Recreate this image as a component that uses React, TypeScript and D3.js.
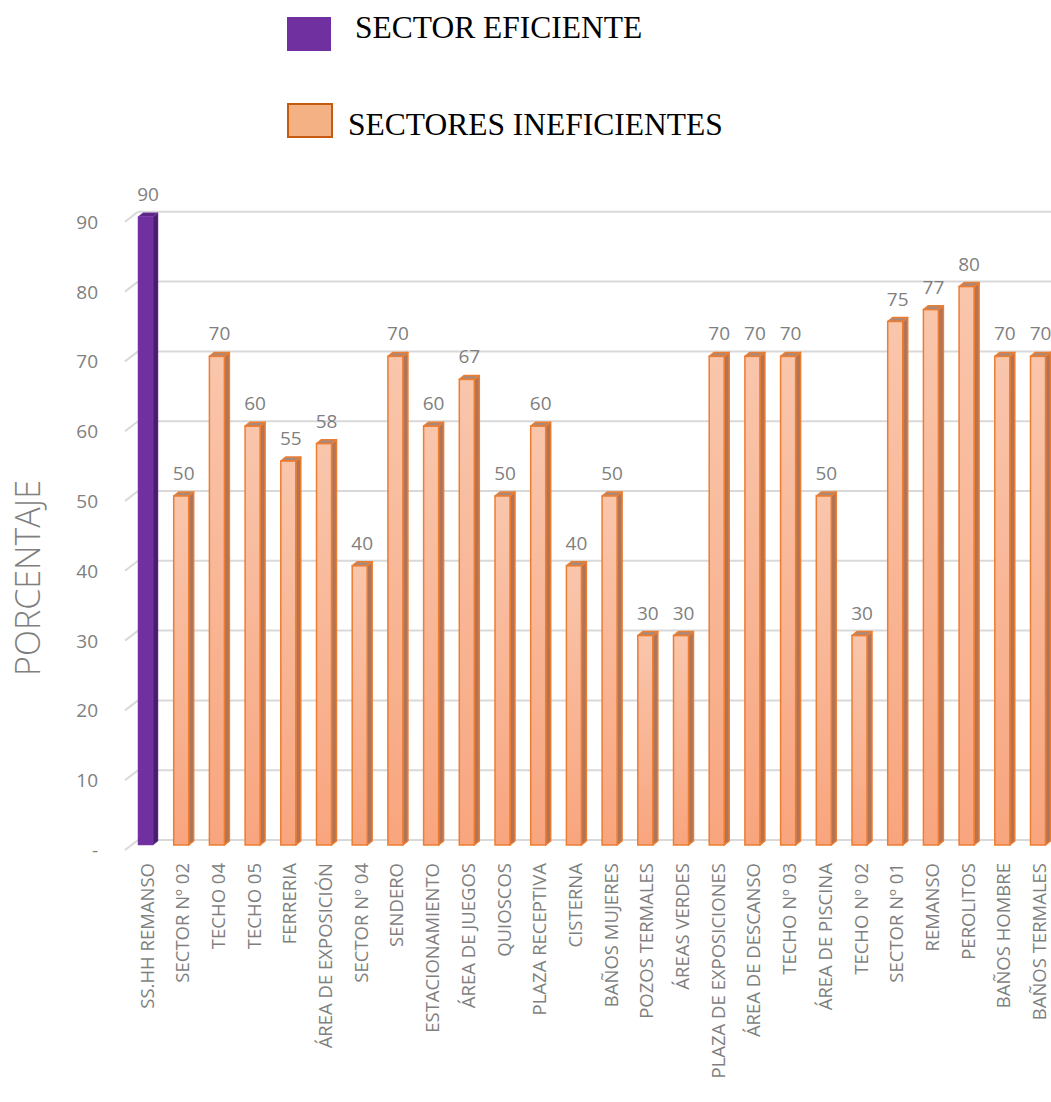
import React from "react";
import * as d3 from "d3";

const categories = [
  "SS.HH REMANSO", "SECTOR Nº 02", "TECHO 04", "TECHO 05", "FERRERIA",
  "ÁREA DE EXPOSICIÓN", "SECTOR Nº 04", "SENDERO", "ESTACIONAMIENTO",
  "ÁREA DE JUEGOS", "QUIOSCOS", "PLAZA RECEPTIVA", "CISTERNA",
  "BAÑOS MUJERES", "POZOS TERMALES", "ÁREAS VERDES", "PLAZA DE  EXPOSICIONES",
  "ÁREA DE DESCANSO", "TECHO Nº 03", "ÁREA DE PISCINA", "TECHO Nº 02",
  "SECTOR Nº 01", "REMANSO", "PEROLITOS", "BAÑOS HOMBRE", "BAÑOS TERMALES",
];
const values = [
  90, 50, 70, 60, 55, 57.5, 40, 70, 60, 66.7, 50, 60, 40, 50, 30, 30, 70, 70,
  70, 50, 30, 75, 76.7, 80, 70, 70,
];
const efficient = ["SS.HH REMANSO"];
const yTicks = [0, 10, 20, 30, 40, 50, 60, 70, 80, 90];
const legendItems = ["SECTOR EFICIENTE", "SECTORES INEFICIENTES"];

export default function App() {
  const W = 1051, H = 1102;
  const y = d3.scaleLinear().domain([0, 90]).range([845, 216.8]);
  const x = d3.scaleBand<string>().domain(categories).range([130.15, 130.15 + 26 * 35.7]);
  const bw = 15, dx = 5, dy = 4;
  const gdx = 13, gdy = 10;
  const axisX = 125;
  const gray = "#7F7F7F";
  const fontSans = "'Open Sans', 'Noto Sans', sans-serif";
  const serif = "'Liberation Serif', 'Times New Roman', serif";
  return (
    <div style={{ position: "fixed", left: 0, top: 0, width: W, height: H, overflow: "hidden" }}>
      <svg width={W} height={H} style={{ display: "block", background: "#fff" }}>
        <defs>
          <linearGradient id="og" x1="0" y1="0" x2="0" y2="1">
            <stop offset="0" stopColor="#F9C6AC" />
            <stop offset="1" stopColor="#F8A57E" />
          </linearGradient>
        </defs>
        {/* legend */}
        <rect x={287} y={17} width={44} height={34} fill="#7030A0" />
        <text x={355} y={38} fontFamily={serif} fontSize={31.5} fill="#000">{legendItems[0]}</text>
        <rect x={288} y={104} width={44} height={33} fill="#F4B183" stroke="#C55A11" strokeWidth={2} />
        <text x={348} y={135} fontFamily={serif} fontSize={31.5} fill="#000">{legendItems[1]}</text>

        {/* gridlines */}
        {yTicks.map((t) => (
          <g key={t}>
            <line x1={axisX + gdx} x2={W} y1={y(t) - gdy / 2} y2={y(t) - gdy / 2} stroke="#D9D9D9" strokeWidth={2} />
            <line x1={axisX} y1={y(t) + gdy / 2} x2={axisX + gdx} y2={y(t) - gdy / 2} stroke="#D9D9D9" strokeWidth={2} />
            <text x={98} y={y(t) + 5} textAnchor="end" dominantBaseline="central" fontFamily={fontSans} fontSize={19} fill={gray}>
              {t === 0 ? "-" : t}
            </text>
          </g>
        ))}

        {/* axis title */}
        <text transform={`translate(27, 578) rotate(-90)`} textAnchor="middle" dominantBaseline="central" fontFamily={fontSans} fontSize={34} fill={gray} fontWeight={300}>
          PORCENTAJE
        </text>

        {/* bars */}
        {categories.map((c, i) => {
          const v = values[i];
          const isEff = efficient.includes(c);
          const left = (x(c) as number) + (x.bandwidth() - (bw + dx)) / 2;
          const top = y(v);
          const base = y(0);
          const front = isEff ? "#7030A0" : "url(#og)";
          const side = isEff ? "#4A1E6B" : "#B07458";
          const topC = isEff ? "#5B2787" : "#A88A7C";
          const stroke = isEff ? "#7A3AAA" : "#ED7D31";
          return (
            <g key={c}>
              <polygon points={`${left + bw},${top} ${left + bw + dx},${top - dy} ${left + bw + dx},${base - dy} ${left + bw},${base}`} fill={side} stroke={stroke} strokeWidth={isEff ? 0.5 : 1.5} strokeLinejoin="round" />
              <polygon points={`${left},${top} ${left + dx},${top - dy} ${left + bw + dx},${top - dy} ${left + bw},${top}`} fill={topC} stroke={stroke} strokeWidth={isEff ? 0.5 : 1.5} strokeLinejoin="round" />
              <rect x={left} y={top} width={bw} height={base - top} fill={front} stroke={stroke} strokeWidth={isEff ? 0.5 : 1.5} />
              <text x={left + (bw + dx) / 2} y={top - 16} textAnchor="middle" fontFamily={fontSans} fontSize={19} fill={gray}>
                {Math.round(v)}
              </text>
              <text transform={`translate(${left + 8}, 863) rotate(-90)`} textAnchor="end" dominantBaseline="central" fontFamily={fontSans} fontSize={18.5} fill={gray}>
                {c}
              </text>
            </g>
          );
        })}
      </svg>
    </div>
  );
}
